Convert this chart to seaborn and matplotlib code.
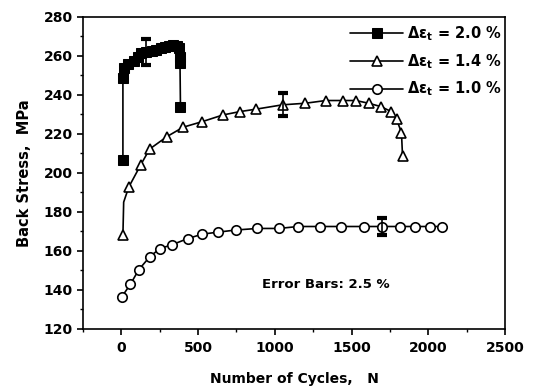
import matplotlib
matplotlib.use("Agg")
import matplotlib.pyplot as plt
from matplotlib.ticker import MultipleLocator
import seaborn as sns
import pandas as pd

# ---- data ----
n_20 = [10, 10, 20, 45, 80, 110, 130, 163, 200, 228, 260, 282, 310, 336, 360, 375, 380, 382, 385]
s_20 = [206.5, 248.6, 253.7, 256.0, 257.6, 259.6, 261.3, 262.0, 262.5, 263.0, 264.0, 264.7, 265.0,
        265.4, 265.0, 264.0, 259.6, 256.2, 234.0]

n_14 = [10, 15, 48, 126, 184, 297, 402, 528, 662, 771, 880, 1050, 1199, 1332, 1445, 1527, 1612,
        1690, 1760, 1793, 1825, 1832]
s_14 = [168.0, 185.0, 192.7, 204.1, 212.2, 218.6, 223.4, 226.3, 229.7, 231.4, 232.7, 234.9, 235.7,
        237.1, 237.1, 237.1, 235.7, 234.0, 231.4, 227.5, 220.7, 208.7]

n_10 = [4, 59, 113, 186, 252, 332, 432, 528, 630, 745, 887, 1027, 1151, 1293, 1434, 1580, 1699,
        1814, 1912, 2014, 2092]
s_10 = [136.6, 142.9, 150.3, 157.1, 161.2, 163.2, 166.3, 168.6, 169.6, 170.7, 171.5, 171.5, 172.5,
        172.5, 172.5, 172.5, 172.5, 172.5, 172.5, 172.5, 172.5]

labels = ["Δε$_t$ = 2.0 %", "Δε$_t$ = 1.4 %", "Δε$_t$ = 1.0 %"]
err_frac = 0.025
err_pts = [(163, 262.0), (1050, 234.9), (1699, 172.5)]

x_ticks = [0, 500, 1000, 1500, 2000, 2500]
y_ticks = [120, 140, 160, 180, 200, 220, 240, 260, 280]

# ---- style ----
sns.set_style("ticks")
plt.rcParams["font.family"] = ["DejaVu Sans"]
plt.rcParams["font.weight"] = "bold"
plt.rcParams["mathtext.default"] = "bf"
plt.rcParams["mathtext.fontset"] = "dejavusans"
for key in ["text.color", "axes.labelcolor", "xtick.color", "ytick.color", "axes.edgecolor"]:
    plt.rcParams[key] = "black"

fig = plt.figure(figsize=(5.39, 3.92), dpi=100)
ax = fig.add_axes([0.154, 0.161, 0.783, 0.796])

df20 = pd.DataFrame({"N": n_20, "S": s_20})
df14 = pd.DataFrame({"N": n_14, "S": s_14})
df10 = pd.DataFrame({"N": n_10, "S": s_10})

lw = 1.2
sns.lineplot(data=df20, x="N", y="S", ax=ax, sort=False, estimator=None, color="black",
             lw=lw, marker="s", markersize=7, markerfacecolor="black", markeredgecolor="black",
             label=labels[0])
sns.lineplot(data=df14, x="N", y="S", ax=ax, sort=False, estimator=None, color="black",
             lw=lw, marker="^", markersize=7.3, markerfacecolor="white", markeredgecolor="black",
             markeredgewidth=1.2, markevery=[i for i in range(len(n_14)) if i != 1],
             label=labels[1])
sns.lineplot(data=df10, x="N", y="S", ax=ax, sort=False, estimator=None, color="black",
             lw=lw, marker="o", markersize=6.8, markerfacecolor="white", markeredgecolor="black",
             markeredgewidth=1.2, label=labels[2])

for xe, ye in err_pts:
    ax.errorbar([xe], [ye], yerr=[ye * err_frac], fmt="none", ecolor="black", elinewidth=1.2,
                capsize=3.5, capthick=3, zorder=5)

ax.text(1330, 142.6, "Error Bars: 2.5 %", ha="center", va="center", fontsize=9.5,
        fontweight="bold", color="black")

ax.set_xlim(-250, 2500)
ax.set_ylim(120, 280)
ax.set_xticks(x_ticks)
ax.set_yticks(y_ticks)
ax.xaxis.set_minor_locator(MultipleLocator(250))
ax.yaxis.set_minor_locator(MultipleLocator(10))
ax.tick_params(axis="both", which="major", direction="out", length=4, width=1.2,
               labelsize=10, top=False, right=False, colors="black")
ax.tick_params(axis="x", which="major", pad=5)
ax.tick_params(axis="both", which="minor", direction="out", length=2, width=1.0,
               top=False, right=False, colors="black")
for lab in ax.get_xticklabels() + ax.get_yticklabels():
    lab.set_fontweight("bold")
for sp in ax.spines.values():
    sp.set_visible(True)
    sp.set_linewidth(1.2)
    sp.set_color("black")

ax.set_xlabel("Number of Cycles,   N", fontsize=10, fontweight="bold", labelpad=12, color="black")
ax.set_ylabel("Back Stress,  MPa", fontsize=10.5, fontweight="bold", labelpad=8, color="black")

leg = ax.legend(loc="upper right", frameon=False, handlelength=3.6,
                handletextpad=0.3, labelspacing=0.62, borderaxespad=0.0,
                borderpad=0.5, bbox_to_anchor=(1.01, 1.0),
                prop={"weight": "bold", "size": 10.5})
for t in leg.get_texts():
    t.set_color("black")

fig.savefig("out.png", dpi=100)
